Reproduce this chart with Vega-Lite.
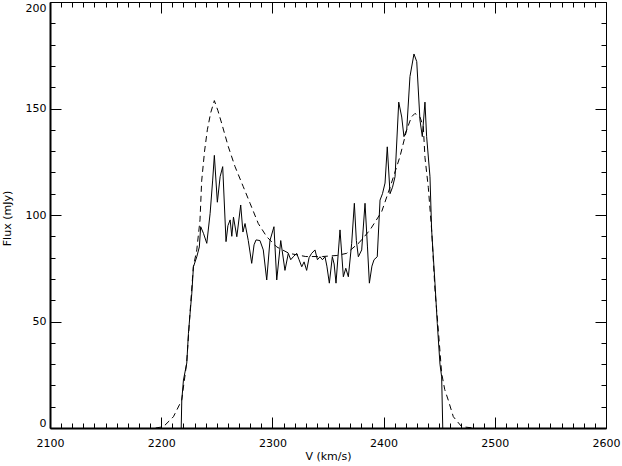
{
  "$schema": "https://vega.github.io/schema/vega-lite/v6.json",
  "width": 556,
  "height": 426,
  "autosize": {"type": "none"},
  "padding": {"left": 50, "top": 2, "right": 16, "bottom": 38},
  "background": "white",
  "config": {
    "view": {"stroke": null},
    "axis": {
      "grid": false,
      "domainColor": "black",
      "tickColor": "black",
      "labelColor": "black",
      "titleColor": "black",
      "labelFont": "DejaVu Sans",
      "titleFont": "DejaVu Sans",
      "labelFontSize": 11,
      "titleFontSize": 11,
      "titleFontWeight": "normal",
      "tickWidth": 1,
      "labelOverlap": false,
      "labelBound": false
    }
  },
  "datasets": {
    "obs": [
      {"v": 2218.0, "flux": 0}, {"v": 2218.5, "flux": 13}, {"v": 2220.0, "flux": 22.5}, {"v": 2223.0, "flux": 30.5},
      {"v": 2224.5, "flux": 44.5}, {"v": 2226.0, "flux": 54}, {"v": 2227.5, "flux": 63}, {"v": 2229.0, "flux": 75.7},
      {"v": 2232.0, "flux": 80.4}, {"v": 2234.3, "flux": 85}, {"v": 2235.5, "flux": 94.5}, {"v": 2238.0, "flux": 91.4},
      {"v": 2241.0, "flux": 86.7}, {"v": 2244.0, "flux": 100.8}, {"v": 2246.3, "flux": 116.4}, {"v": 2247.8, "flux": 128},
      {"v": 2250.5, "flux": 106}, {"v": 2253.0, "flux": 118}, {"v": 2255.3, "flux": 122.7}, {"v": 2258.3, "flux": 87.5},
      {"v": 2260.0, "flux": 95}, {"v": 2262.0, "flux": 97.7}, {"v": 2263.5, "flux": 90}, {"v": 2265.0, "flux": 99},
      {"v": 2268.0, "flux": 89.8}, {"v": 2271.5, "flux": 104.7}, {"v": 2273.5, "flux": 92}, {"v": 2275.4, "flux": 96},
      {"v": 2278.3, "flux": 88}, {"v": 2281.4, "flux": 77.3}, {"v": 2283.5, "flux": 86}, {"v": 2285.3, "flux": 88.3},
      {"v": 2288.8, "flux": 88}, {"v": 2291.8, "flux": 83.6}, {"v": 2294.9, "flux": 69.5}, {"v": 2297.8, "flux": 88},
      {"v": 2301.4, "flux": 94.5}, {"v": 2303.9, "flux": 69.5}, {"v": 2307.5, "flux": 88}, {"v": 2311.3, "flux": 74},
      {"v": 2314.3, "flux": 82}, {"v": 2316.5, "flux": 79}, {"v": 2318.8, "flux": 80.4}, {"v": 2321.8, "flux": 82},
      {"v": 2324.0, "flux": 79}, {"v": 2326.4, "flux": 75.7}, {"v": 2328.5, "flux": 78}, {"v": 2330.8, "flux": 74},
      {"v": 2333.0, "flux": 80}, {"v": 2335.3, "flux": 82}, {"v": 2338.3, "flux": 83.6}, {"v": 2340.5, "flux": 79},
      {"v": 2342.8, "flux": 80.4}, {"v": 2345.0, "flux": 79}, {"v": 2347.3, "flux": 80.4}, {"v": 2349.0, "flux": 76},
      {"v": 2351.2, "flux": 68}, {"v": 2353.9, "flux": 80.4}, {"v": 2355.5, "flux": 77}, {"v": 2357.2, "flux": 68},
      {"v": 2360.8, "flux": 93}, {"v": 2363.8, "flux": 71}, {"v": 2366.0, "flux": 75}, {"v": 2368.3, "flux": 71},
      {"v": 2371.3, "flux": 86.7}, {"v": 2373.7, "flux": 105.5}, {"v": 2375.5, "flux": 88}, {"v": 2377.3, "flux": 80.4},
      {"v": 2380.3, "flux": 83.6}, {"v": 2383.3, "flux": 105.5}, {"v": 2385.5, "flux": 85}, {"v": 2387.2, "flux": 68},
      {"v": 2389.5, "flux": 76}, {"v": 2391.4, "flux": 79}, {"v": 2394.3, "flux": 80.4}, {"v": 2396.8, "flux": 107},
      {"v": 2399.0, "flux": 110}, {"v": 2401.3, "flux": 115}, {"v": 2403.3, "flux": 132}, {"v": 2405.8, "flux": 110},
      {"v": 2408.0, "flux": 113}, {"v": 2410.3, "flux": 118}, {"v": 2413.6, "flux": 153}, {"v": 2416.3, "flux": 146},
      {"v": 2418.3, "flux": 136.8}, {"v": 2420.8, "flux": 140}, {"v": 2423.7, "flux": 165}, {"v": 2427.3, "flux": 175.6},
      {"v": 2429.8, "flux": 172}, {"v": 2432.7, "flux": 144.6}, {"v": 2434.8, "flux": 136.8}, {"v": 2437.2, "flux": 153},
      {"v": 2438.7, "flux": 136.8}, {"v": 2441.7, "flux": 118}, {"v": 2443.2, "flux": 93}, {"v": 2446.2, "flux": 68},
      {"v": 2448.3, "flux": 49}, {"v": 2450.7, "flux": 30}, {"v": 2452.2, "flux": 24}, {"v": 2453.2, "flux": 0}
    ],
    "model": [
      {"v": 2195, "flux": 0}, {"v": 2202, "flux": 0.6}, {"v": 2211, "flux": 5.3}, {"v": 2218.4, "flux": 13},
      {"v": 2222.9, "flux": 30.5}, {"v": 2225.9, "flux": 54}, {"v": 2228.9, "flux": 75.7}, {"v": 2232, "flux": 83.6},
      {"v": 2234.9, "flux": 97.7}, {"v": 2236.4, "flux": 116}, {"v": 2239, "flux": 130}, {"v": 2241.5, "flux": 140},
      {"v": 2244.5, "flux": 148}, {"v": 2247.8, "flux": 153.7}, {"v": 2251, "flux": 149}, {"v": 2254.4, "flux": 143},
      {"v": 2260.4, "flux": 132}, {"v": 2266.4, "flux": 122.7}, {"v": 2273.8, "flux": 113.3}, {"v": 2279.9, "flux": 105.5},
      {"v": 2287.3, "flux": 96}, {"v": 2294.9, "flux": 89.8}, {"v": 2303.9, "flux": 85}, {"v": 2315, "flux": 82},
      {"v": 2330, "flux": 80.5}, {"v": 2345, "flux": 80.5}, {"v": 2358, "flux": 81}, {"v": 2366.8, "flux": 82},
      {"v": 2378, "flux": 87}, {"v": 2387.8, "flux": 93}, {"v": 2398.3, "flux": 101.6}, {"v": 2405.8, "flux": 113},
      {"v": 2414.7, "flux": 127.4}, {"v": 2420.8, "flux": 140}, {"v": 2425, "flux": 146}, {"v": 2428.2, "flux": 147.7},
      {"v": 2432.7, "flux": 146}, {"v": 2435.7, "flux": 141.5}, {"v": 2437.2, "flux": 127}, {"v": 2440.2, "flux": 113},
      {"v": 2443.2, "flux": 93}, {"v": 2446.2, "flux": 64.8}, {"v": 2449.2, "flux": 46}, {"v": 2452.2, "flux": 25.7},
      {"v": 2455, "flux": 18}, {"v": 2458.2, "flux": 13}, {"v": 2462.7, "flux": 5.3}, {"v": 2470.2, "flux": 0.6},
      {"v": 2481, "flux": 0}
    ]
  },
  "layer": [
    {
      "data": {"name": "obs"},
      "mark": {"type": "line", "color": "black", "strokeWidth": 1},
      "encoding": {
        "x": {
          "field": "v", "type": "quantitative",
          "scale": {"domain": [2100, 2600], "nice": false, "zero": false},
          "axis": {
            "orient": "bottom",
            "values": [2100,2110,2120,2130,2140,2150,2160,2170,2180,2190,2200,2210,2220,2230,2240,2250,2260,2270,2280,2290,2300,2310,2320,2330,2340,2350,2360,2370,2380,2390,2400,2410,2420,2430,2440,2450,2460,2470,2480,2490,2500,2510,2520,2530,2540,2550,2560,2570,2580,2590,2600],
            "labelExpr": "datum.value % 100 === 0 ? datum.label : ''",
            "format": "d",
            "tickSize": {"condition": {"test": "datum.value % 100 === 0", "value": -11}, "value": -5},
            "labelPadding": 20,
            "labelFlush": false,
            "domainWidth": 2,
            "title": "V (km/s)",
            "titleY": 22,
            "titleBaseline": "top"
          }
        },
        "y": {
          "field": "flux", "type": "quantitative",
          "scale": {"domain": [0, 200], "nice": false},
          "axis": {
            "orient": "left",
            "values": [0,10,20,30,40,50,60,70,80,90,100,110,120,130,140,150,160,170,180,190,200],
            "labelExpr": "datum.value % 50 === 0 ? datum.label : ''",
            "tickSize": {"condition": {"test": "datum.value % 50 === 0", "value": -11}, "value": -5},
            "labelPadding": 15,
            "labelFlush": true,
            "domainWidth": 2,
            "title": "Flux (mJy)",
            "titleX": -43,
            "titleY": 216,
            "titleBaseline": "middle",
            "titleAngle": 270
          }
        }
      }
    },
    {
      "data": {"name": "model"},
      "mark": {"type": "line", "color": "black", "strokeWidth": 1, "strokeDash": [6, 4]},
      "encoding": {
        "x": {
          "field": "v", "type": "quantitative",
          "axis": {
            "orient": "top",
            "values": [2100,2110,2120,2130,2140,2150,2160,2170,2180,2190,2200,2210,2220,2230,2240,2250,2260,2270,2280,2290,2300,2310,2320,2330,2340,2350,2360,2370,2380,2390,2400,2410,2420,2430,2440,2450,2460,2470,2480,2490,2500,2510,2520,2530,2540,2550,2560,2570,2580,2590,2600],
            "labels": false,
            "tickSize": {"condition": {"test": "datum.value % 100 === 0", "value": -11}, "value": -5},
            "domainWidth": 1,
            "title": null
          }
        },
        "y": {
          "field": "flux", "type": "quantitative",
          "axis": {
            "orient": "right",
            "values": [0,10,20,30,40,50,60,70,80,90,100,110,120,130,140,150,160,170,180,190,200],
            "labels": false,
            "tickSize": {"condition": {"test": "datum.value % 50 === 0", "value": -11}, "value": -5},
            "domainWidth": 1,
            "title": null
          }
        }
      }
    }
  ],
  "resolve": {"axis": {"x": "independent", "y": "independent"}}
}
